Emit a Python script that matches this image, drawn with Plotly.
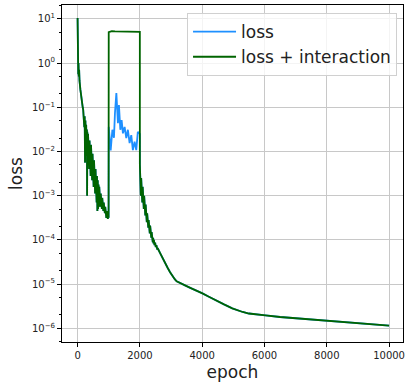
import plotly.graph_objects as go

# ---- data ----
# shared part, epochs 0..999
epoch_a = [0, 8, 15, 22, 30, 40, 50, 62, 75, 90, 105, 120, 135, 150, 165, 180, 192, 204, 216,
           228, 240, 252, 264, 276, 288, 300, 306, 312, 324, 336, 348, 360, 372, 384, 396,
           408, 420, 432, 444, 456, 468, 480, 492, 504, 516, 528, 540, 552, 564, 576, 588,
           600, 612, 624, 636, 648, 660, 672, 684, 696, 708, 720, 732, 744, 756, 768, 780,
           792, 804, 816, 828, 840, 852, 864, 876, 888, 900, 912, 924, 936, 948, 960, 972,
           984, 996]
loss_a = [10.5, 2.0, 1.0, 0.56, 1.0, 0.5, 0.71, 0.4, 0.355, 0.25, 0.21, 0.16, 0.141, 0.112,
          0.1, 0.089, 0.05, 0.079, 0.0355, 0.063, 0.0056, 0.05, 0.0141, 0.04, 0.0079, 0.0316,
          0.001, 0.028, 0.0063, 0.025, 0.005, 0.0224, 0.004, 0.0178, 0.00355, 0.0158, 0.0028,
          0.0141, 0.0025, 0.0112, 0.00224, 0.0089, 0.00178, 0.0079, 0.00158, 0.0063, 0.00126,
          0.005, 0.00112, 0.004, 0.00089, 0.00355, 0.0007, 0.0028, 0.00045, 0.00224, 0.0005,
          0.00178, 0.00056, 0.00158, 0.00063, 0.0014, 0.00056, 0.00112, 0.00056, 0.001,
          0.0005, 0.00089, 0.0005, 0.00079, 0.00045, 0.0007, 0.0004, 0.00063, 0.0004,
          0.00056, 0.000355, 0.0005, 0.000316, 0.00045, 0.000316, 0.0004, 0.0003, 0.00038,
          0.000316]

# middle part, epochs 1000..1999
epoch_b_loss = [1000, 1063, 1117, 1168, 1200, 1245, 1296, 1328, 1373, 1414, 1456, 1510,
                1564, 1615, 1670, 1724, 1775, 1830, 1884, 1934, 1966, 1999]
loss_b = [0.036, 0.0105, 0.031, 0.0204, 0.074, 0.209, 0.0437, 0.112, 0.031, 0.051, 0.0257,
          0.036, 0.02, 0.031, 0.0155, 0.0234, 0.0107, 0.0166, 0.0107, 0.028, 0.026, 0.025]
epoch_b_inter = [1000, 1100, 1200, 1300, 1400, 1500, 1600, 1700, 1800, 1900, 1999]
inter_b = [5.0, 5.3, 5.2, 5.2, 5.15, 5.2, 5.2, 5.15, 5.1, 5.1, 5.1]

# shared part, epochs 2000..10000
epoch_c = [2000, 2006, 2018, 2030, 2042, 2054, 2066, 2078, 2090, 2102, 2114, 2126, 2138,
           2150, 2162, 2174, 2186, 2198, 2210, 2222, 2234, 2246, 2258, 2270, 2282, 2294,
           2306, 2318, 2330, 2342, 2354, 2366, 2378, 2390, 2402, 2414, 2426, 2438, 2450,
           2470, 2490, 2510, 2530, 2555, 2580, 2650, 2730, 2810, 2890, 2970, 3050, 3120,
           3180, 3250, 3330, 3450, 3600, 3800, 4009, 4200, 4437, 4700, 4967, 5150, 5300,
           5500, 5750, 6032, 6500, 7095, 7550, 8031, 8500, 9010, 9500, 10000]
loss_c = [0.005, 0.00126, 0.00355, 0.001, 0.0025, 0.00089, 0.002, 0.0007, 0.00158, 0.00063,
          0.00126, 0.0005, 0.001, 0.00045, 0.00079, 0.000355, 0.00063, 0.000316, 0.0005,
          0.00025, 0.0004, 0.000224, 0.000355, 0.00019, 0.00028, 0.000158, 0.00025,
          0.000141, 0.00021, 0.000126, 0.000178, 0.000112, 0.000151, 0.0001, 0.000132,
          8.9e-5, 0.000112, 8.3e-5, 0.0001, 7.6e-5, 8.7e-5, 6.9e-5, 7.6e-5, 6.3e-5, 6.3e-5,
          5.0e-5, 3.8e-5, 2.95e-5, 2.34e-5, 1.86e-5, 1.51e-5, 1.29e-5, 1.16e-5, 1.084e-5,
          1.023e-5, 9.33e-6, 8.32e-6, 7.24e-6, 6.17e-6, 5.25e-6, 4.27e-6, 3.47e-6, 2.82e-6,
          2.51e-6, 2.34e-6, 2.16e-6, 2.04e-6, 1.95e-6, 1.8e-6, 1.66e-6, 1.57e-6, 1.48e-6,
          1.38e-6, 1.29e-6, 1.22e-6, 1.15e-6]

x_tick_vals = [0, 2000, 4000, 6000, 8000, 10000]
x_tick_text = ["0", "2000", "4000", "6000", "8000", "10000"]
y_tick_vals = [1e1, 1e0, 1e-1, 1e-2, 1e-3, 1e-4, 1e-5, 1e-6]
y_tick_text = ["10<sup>1</sup>", "10<sup>0</sup>", "10<sup>−1</sup>", "10<sup>−2</sup>",
               "10<sup>−3</sup>", "10<sup>−4</sup>", "10<sup>−5</sup>", "10<sup>−6</sup>"]

series_names = ["loss", "loss + interaction"]
series_colors = ["#1E90FF", "#006400"]

# ---- figure ----
font_family = "DejaVu Sans"
fig = go.Figure()
fig.add_trace(go.Scatter(x=epoch_a + epoch_b_loss + epoch_c, y=loss_a + loss_b + loss_c,
                         mode="lines", name=series_names[0],
                         line=dict(color=series_colors[0], width=1.8)))
fig.add_trace(go.Scatter(x=epoch_a + epoch_b_inter + epoch_c, y=loss_a + inter_b + loss_c,
                         mode="lines", name=series_names[1],
                         line=dict(color=series_colors[1], width=1.8)))

axis_common = dict(showline=True, mirror=True, linecolor="black", linewidth=1,
                   showgrid=True, gridcolor="#c8c8c8", gridwidth=1, zeroline=False,
                   ticks="outside", ticklen=4, tickcolor="black",
                   tickfont=dict(family=font_family, size=10, color="#222"))

fig.update_layout(
    width=405, height=383,
    margin=dict(l=62, r=0, t=5, b=41),
    paper_bgcolor="white", plot_bgcolor="white",
    font=dict(family=font_family, color="#222"),
    showlegend=True,
    legend=dict(x=0.9825, y=0.976, xanchor="right", yanchor="top", itemwidth=43,
                bgcolor="rgba(255,255,255,0.8)", bordercolor="#d0d0d0", borderwidth=1,
                font=dict(family=font_family, size=17, color="#222")),
    xaxis=dict(range=[-500, 10447], tickvals=x_tick_vals, ticktext=x_tick_text,
               ticklabeloverflow="allow",
               title=dict(text="epoch", font=dict(family=font_family, size=17, color="#222"),
                          standoff=6),
               **axis_common),
    yaxis=dict(type="log", range=[-6.31, 1.314], tickvals=y_tick_vals, ticktext=y_tick_text,
               title=dict(text="loss", font=dict(family=font_family, size=17, color="#222"),
                          standoff=4),
               minor=dict(ticks="outside", ticklen=2, tickcolor="black", showgrid=False),
               **axis_common),
)

fig.write_html("out.html")
